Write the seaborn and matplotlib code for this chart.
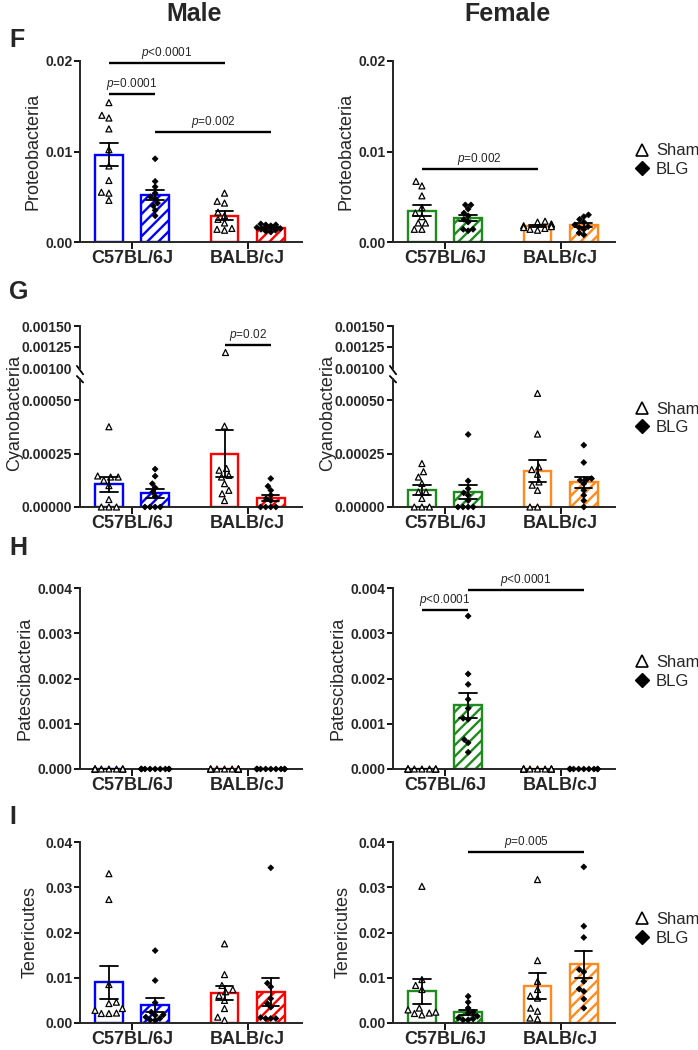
import warnings
import numpy as np
import pandas as pd
import matplotlib
matplotlib.use("Agg")
import matplotlib.pyplot as plt
from matplotlib.lines import Line2D
from matplotlib.transforms import Bbox, TransformedBbox
import seaborn as sns
from seaborn import categorical as sns_cat

warnings.filterwarnings("ignore")

# Prism packs the scatter tighter than seaborn's default swarm width
_beeswarm_init = sns_cat.Beeswarm.__init__


def _narrow_beeswarm(self, *args, **kwargs):
    kwargs["width"] = kwargs.get("width", 0.8) * 0.3
    _beeswarm_init(self, *args, **kwargs)


sns_cat.Beeswarm.__init__ = _narrow_beeswarm

strains = ["C57BL/6J", "BALB/cJ"]
treatments = ["Sham", "BLG"]

male_colors = ["#0000FF", "#FF0000"]
female_colors = ["#1F8B1F", "#FF8A1E"]

# each panel: [C57 Sham, C57 BLG, BALB Sham, BALB BLG]
proteo_male = [
    [0.0154, 0.0140, 0.0137, 0.0125, 0.0102, 0.0084, 0.0068, 0.0055, 0.0054, 0.0046],
    [0.0092, 0.0067, 0.0061, 0.0054, 0.0050, 0.0048, 0.0043, 0.0040, 0.0035, 0.0029],
    [0.0054, 0.0045, 0.0043, 0.0033, 0.0029, 0.0025, 0.0021, 0.0015, 0.0014, 0.0013],
    [0.0020, 0.0019, 0.0019, 0.0018, 0.0016, 0.0015, 0.0014, 0.0013, 0.0012, 0.0011],
]
proteo_female = [
    [0.0067, 0.0062, 0.0051, 0.0038, 0.0032, 0.0028, 0.0021, 0.0021, 0.0014, 0.0014],
    [0.0041, 0.0041, 0.00365, 0.0032, 0.0029, 0.0025, 0.0022, 0.0014, 0.0014, 0.00125],
    [0.0023, 0.0022, 0.0020, 0.0019, 0.0018, 0.0017, 0.0016, 0.0015, 0.0014, 0.0013],
    [0.0030, 0.0028, 0.0025, 0.0022, 0.0019, 0.0017, 0.0016, 0.0014, 0.0010, 0.0008],
]
cyano_male = [
    [0.000375, 0.000145, 0.000140, 0.000140, 0.000125, 0.000100, 0.000035, 0.0, 0.0, 0.0],
    [0.000177, 0.000144, 0.000109, 0.000090, 0.000070, 0.000050, 0.0, 0.0, 0.0, 0.0],
    [0.00119, 0.000378, 0.000180, 0.000172, 0.000148, 0.000140, 0.000109, 0.000078, 0.000062, 0.000030],
    [0.000133, 0.000097, 0.000078, 0.000055, 0.000039, 0.000030, 0.0, 0.0, 0.0, 0.0],
]
cyano_female = [
    [0.000203, 0.000165, 0.000140, 0.000110, 0.000070, 0.000070, 0.000040, 0.0, 0.0, 0.0],
    [0.000339, 0.000122, 0.000086, 0.000066, 0.000055, 0.000030, 0.0, 0.0, 0.0, 0.0],
    [0.000531, 0.000341, 0.000188, 0.000175, 0.000153, 0.000117, 0.000102, 0.000078, 0.0, 0.0],
    [0.000289, 0.000208, 0.000133, 0.000128, 0.000125, 0.000109, 0.000078, 0.000055, 0.000030, 0.0],
]
patesci_male = [
    [0.0] * 10,
    [0.0] * 10,
    [0.0] * 10,
    [0.0] * 10,
]
patesci_female = [
    [0.0] * 10,
    [0.00338, 0.00210, 0.00187, 0.00154, 0.00134, 0.00112, 0.00110, 0.00065, 0.00058, 0.00037],
    [0.0] * 10,
    [0.0] * 10,
]
teneri_male = [
    [0.0330, 0.0273, 0.0085, 0.0046, 0.0043, 0.0032, 0.0028, 0.0022, 0.0021, 0.0021],
    [0.0160, 0.0094, 0.0045, 0.0024, 0.0018, 0.0017, 0.0013, 0.0010, 0.0007, 0.0006],
    [0.0175, 0.0107, 0.0083, 0.0074, 0.0069, 0.0061, 0.0050, 0.0032, 0.0013, 0.0006],
    [0.0343, 0.0088, 0.0080, 0.0054, 0.0043, 0.0035, 0.0012, 0.0010, 0.0010, 0.0010],
]
teneri_female = [
    [0.0302, 0.0096, 0.0083, 0.0074, 0.0033, 0.0029, 0.0024, 0.0022, 0.0021, 0.0018],
    [0.0059, 0.0046, 0.0033, 0.0024, 0.0022, 0.0015, 0.0011, 0.0009, 0.0007, 0.0007],
    [0.0317, 0.0138, 0.0092, 0.0074, 0.0060, 0.0055, 0.0033, 0.0026, 0.0011, 0.0009],
    [0.0345, 0.0214, 0.0189, 0.0118, 0.0113, 0.0092, 0.0075, 0.0070, 0.0053, 0.0033],
]

# significance brackets: (group a, group b, y, p text); groups index into strain x treatment
brackets_proteo_male = [(0, 2, 0.0198, "<0.0001"), (0, 1, 0.0163, "=0.0001"), (1, 3, 0.0121, "=0.002")]
brackets_proteo_female = [(0, 2, 0.0081, "=0.002")]
brackets_cyano_male = [(2, 3, 0.00127, "=0.02")]
brackets_patesci_female = [(0, 1, 0.00351, "<0.0001"), (1, 3, 0.00396, "<0.0001")]
brackets_teneri_female = [(1, 3, 0.0378, "=0.005")]

sns.set_style("ticks")
plt.rcParams["font.family"] = ["Liberation Sans", "DejaVu Sans"]
plt.rcParams["mathtext.fontset"] = "custom"
plt.rcParams["mathtext.rm"] = "Liberation Sans"
plt.rcParams["mathtext.it"] = "Liberation Sans:italic"
plt.rcParams["hatch.linewidth"] = 1.7
plt.rcParams["axes.linewidth"] = 1.4


def to_frame(groups):
    rows = []
    keys = [(s, t) for s in strains for t in treatments]
    for (s, t), vals in zip(keys, groups):
        for v in vals:
            rows.append({"strain": s, "treatment": t, "value": v})
    return pd.DataFrame(rows)


def group_pos(i):
    s, t = divmod(i, 2)
    return s + (-0.2 if t == 0 else 0.2)


W, H = 698, 1050
fig = plt.figure(figsize=(W / 100, H / 100), dpi=100)


def px_axes(left, top, bottom):
    return fig.add_axes([left / W, 1 - bottom / H, 222 / W, (bottom - top) / H])


def draw_panel(ax, df, colors, pts=None):
    sns.barplot(data=df, x="strain", y="value", hue="treatment", order=strains,
                hue_order=treatments, errorbar="se", capsize=0.3, gap=0.4,
                palette=["white", "white"], legend=False, ax=ax,
                err_kws={"color": "black", "linewidth": 1.3})
    for p in ax.patches:
        cx = p.get_x() + p.get_width() / 2
        g = int(round(cx))
        p.set_facecolor("white")
        p.set_edgecolor(colors[g])
        p.set_linewidth(1.7)
        if cx > g:
            p.set_hatch("///")
    for ln in ax.lines:
        ln.set_zorder(4)
    pts = df if pts is None else pts
    for t, marker, size, lw in [("Sham", "^", 4.3, 0.9), ("BLG", "D", 2.9, 0.6)]:
        sub = pts[pts.treatment == t]
        if len(sub) == 0:
            continue
        sns.swarmplot(data=sub, x="strain", y="value", hue="treatment", order=strains,
                      hue_order=treatments, dodge=True, marker=marker,
                      palette={"Sham": "white", "BLG": "black"}, edgecolor="black",
                      linewidth=lw, size=size, legend=False, ax=ax, zorder=3)
    # let points sit on the axis line without being cut in half
    box = TransformedBbox(Bbox([[-0.05, -0.06], [1.05, 1.06]]), ax.transAxes)
    for c in ax.collections:
        c.set_clip_box(box)
    ax.set_xlim(-0.45, 1.47)
    ax.set_xlabel("")
    ax.set_ylabel("")
    sns.despine(ax=ax)


def style_axes(ax, ticks, fmt, show_x=True):
    ax.set_yticks(ticks, [fmt % t for t in ticks], fontsize=10, fontweight="bold")
    ax.tick_params(axis="y", length=4, width=1.3, pad=1.5, color="black")
    if show_x:
        ax.set_xticks([0, 1], strains, fontsize=13, fontweight="bold")
        ax.tick_params(axis="x", length=5, width=1.3, pad=1, color="black")
    else:
        ax.set_xticks([])
        ax.spines["bottom"].set_visible(False)


def add_brackets(ax, brackets):
    for a, b, y, txt in brackets:
        x1, x2 = group_pos(a), group_pos(b)
        ax.plot([x1, x2], [y, y], color="black", lw=1.7, clip_on=False,
                solid_capstyle="butt", zorder=5)
        ax.annotate(r"$\mathit{p}$" + txt, ((x1 + x2) / 2, y), xytext=(0, 1.5),
                    textcoords="offset points", ha="center", va="bottom", fontsize=8.5)


def add_legend(ax, yfrac):
    handles = [
        Line2D([], [], ls="", marker="^", ms=8, mfc="white", mec="black", mew=1.2),
        Line2D([], [], ls="", marker="D", ms=7, mfc="black", mec="black"),
    ]
    ax.legend(handles, treatments, loc="center left", bbox_to_anchor=(1.09, yfrac),
              frameon=False, fontsize=12, handlelength=0.8, handletextpad=0.45,
              borderaxespad=0, borderpad=0, labelspacing=0.2)


lefts = [80, 393]
col_colors = [male_colors, female_colors]

# row F: Proteobacteria
for k, groups in enumerate([proteo_male, proteo_female]):
    ax = px_axes(lefts[k], 61, 242)
    draw_panel(ax, to_frame(groups), col_colors[k])
    ax.set_ylim(0, 0.02)
    style_axes(ax, [0, 0.01, 0.02], "%.2f")
    ax.set_ylabel("Proteobacteria", fontsize=13, va="center")
    ax.yaxis.set_label_coords(-47 / 222, 0.5)
    if k == 0:
        add_brackets(ax, brackets_proteo_male)
    else:
        add_brackets(ax, brackets_proteo_female)
        add_legend(ax, 0.453)

# row G: Cyanobacteria with broken axis
for k, groups in enumerate([cyano_male, cyano_female]):
    df = to_frame(groups)
    low = px_axes(lefts[k], 378.6, 507)
    draw_panel(low, df, col_colors[k], pts=df[df.value <= 0.0006])
    low.set_ylim(0, 0.0006)
    style_axes(low, [0, 0.00025, 0.0005], "%.5f")
    low.set_ylabel("Cyanobacteria", fontsize=13, va="center")
    low.yaxis.set_label_coords(-65 / 222, 0.73)

    up = px_axes(lefts[k], 326, 368)
    draw_panel(up, df, col_colors[k], pts=df[df.value > 0.001])
    up.set_ylim(0.001, 0.0015)
    style_axes(up, [0.001, 0.00125, 0.0015], "%.5f", show_x=False)
    up.yaxis.get_major_ticks()[0].tick1line.set_visible(False)

    # break marks on the y axis
    up.plot([-0.014, 0.014], [0.05, -0.15], transform=up.transAxes, color="black",
            lw=1.3, clip_on=False)
    low.plot([-0.014, 0.014], [1.02, 0.97], transform=low.transAxes, color="black",
             lw=1.3, clip_on=False)
    if k == 0:
        add_brackets(up, brackets_cyano_male)
    else:
        add_legend(low, 0.69)

# row H: Patescibacteria
for k, groups in enumerate([patesci_male, patesci_female]):
    ax = px_axes(lefts[k], 588, 769)
    draw_panel(ax, to_frame(groups), col_colors[k])
    ax.set_ylim(0, 0.004)
    style_axes(ax, [0, 0.001, 0.002, 0.003, 0.004], "%.3f")
    ax.set_ylabel("Patescibacteria", fontsize=13, va="center")
    ax.yaxis.set_label_coords(-55 / 222, 0.5)
    if k == 1:
        add_brackets(ax, brackets_patesci_female)
        add_legend(ax, 0.536)

# row I: Tenericutes
for k, groups in enumerate([teneri_male, teneri_female]):
    ax = px_axes(lefts[k], 842, 1023)
    draw_panel(ax, to_frame(groups), col_colors[k])
    ax.set_ylim(0, 0.04)
    style_axes(ax, [0, 0.01, 0.02, 0.03, 0.04], "%.2f")
    ax.set_ylabel("Tenericutes", fontsize=13, va="center")
    ax.yaxis.set_label_coords(-50 / 222, 0.5)
    if k == 1:
        add_brackets(ax, brackets_teneri_female)
        add_legend(ax, 0.52)

fig.text(194 / W, 1 - 14 / H, "Male", ha="center", va="center", fontsize=18, fontweight="bold")
fig.text(507 / W, 1 - 14 / H, "Female", ha="center", va="center", fontsize=18, fontweight="bold")
for letter, yc in [("F", 40), ("G", 292), ("H", 548), ("I", 817)]:
    fig.text(9 / W, 1 - yc / H, letter, ha="left", va="center", fontsize=18, fontweight="bold")

fig.savefig("out.png", dpi=100)
